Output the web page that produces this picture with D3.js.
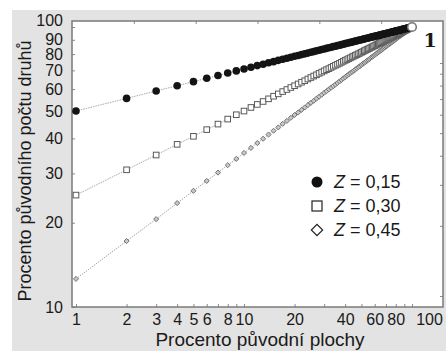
<!DOCTYPE html>
<html>
<head>
<meta charset="utf-8">
<script src="https://cdn.jsdelivr.net/npm/d3@7"></script>
<style>
  body { margin: 0; background: #fff; }
  text { font-family: "Liberation Sans", Arial, sans-serif; fill: #1a1a1a; }
</style>
</head>
<body>
<div id="graf"></div>
<script>
// procento původní plochy (osa x)
const plocha = [1, 2, 3, 4, 5, 6, 7, 8, 9, 10, 11, 12, 13, 14, 15, 16, 17, 18, 19, 20,
  21, 22, 23, 24, 25, 26, 27, 28, 29, 30, 31, 32, 33, 34, 35, 36, 37, 38, 39, 40,
  41, 42, 43, 44, 45, 46, 47, 48, 49, 50, 51, 52, 53, 54, 55, 56, 57, 58, 59, 60,
  61, 62, 63, 64, 65, 66, 67, 68, 69, 70, 71, 72, 73, 74, 75, 76, 77, 78, 79, 80,
  81, 82, 83, 84, 85, 86, 87, 88, 89, 90, 91, 92, 93, 94, 95, 96, 97, 98, 99, 100];

// procento původního počtu druhů pro jednotlivá Z
const druhyZ15 = [50.1, 55.6, 59.1, 61.7, 63.8, 65.6, 67.1, 68.5, 69.7, 70.8,
  71.8, 72.8, 73.6, 74.5, 75.2, 76.0, 76.7, 77.3, 78.0, 78.6,
  79.1, 79.7, 80.2, 80.7, 81.2, 81.7, 82.2, 82.6, 83.1, 83.5,
  83.9, 84.3, 84.7, 85.1, 85.4, 85.8, 86.1, 86.5, 86.8, 87.2,
  87.5, 87.8, 88.1, 88.4, 88.7, 89.0, 89.3, 89.6, 89.9, 90.1,
  90.4, 90.7, 90.9, 91.2, 91.4, 91.7, 91.9, 92.2, 92.4, 92.6,
  92.9, 93.1, 93.3, 93.5, 93.7, 94.0, 94.2, 94.4, 94.6, 94.8,
  95.0, 95.2, 95.4, 95.6, 95.8, 96.0, 96.2, 96.3, 96.5, 96.7,
  96.9, 97.1, 97.2, 97.4, 97.6, 97.8, 97.9, 98.1, 98.3, 98.4,
  98.6, 98.8, 98.9, 99.1, 99.2, 99.4, 99.5, 99.7, 99.8, 100];
const druhyZ30 = [25.1, 30.9, 34.9, 38.1, 40.7, 43.0, 45.0, 46.9, 48.6, 50.1,
  51.6, 52.9, 54.2, 55.4, 56.6, 57.7, 58.8, 59.8, 60.8, 61.7,
  62.6, 63.5, 64.3, 65.2, 66.0, 66.8, 67.5, 68.3, 69.0, 69.7,
  70.4, 71.0, 71.7, 72.4, 73.0, 73.6, 74.2, 74.8, 75.4, 76.0,
  76.5, 77.1, 77.6, 78.2, 78.7, 79.2, 79.7, 80.2, 80.7, 81.2,
  81.7, 82.2, 82.7, 83.1, 83.6, 84.0, 84.5, 84.9, 85.4, 85.8,
  86.2, 86.6, 87.1, 87.5, 87.9, 88.3, 88.7, 89.1, 89.5, 89.9,
  90.2, 90.6, 91.0, 91.4, 91.7, 92.1, 92.5, 92.8, 93.2, 93.5,
  93.9, 94.2, 94.6, 94.9, 95.2, 95.6, 95.9, 96.2, 96.6, 96.9,
  97.2, 97.5, 97.8, 98.2, 98.5, 98.8, 99.1, 99.4, 99.7, 100];
const druhyZ45 = [12.6, 17.2, 20.6, 23.5, 26.0, 28.2, 30.2, 32.1, 33.8, 35.5,
  37.0, 38.5, 39.9, 41.3, 42.6, 43.8, 45.1, 46.2, 47.4, 48.5,
  49.5, 50.6, 51.6, 52.6, 53.6, 54.5, 55.5, 56.4, 57.3, 58.2,
  59.0, 59.9, 60.7, 61.5, 62.3, 63.1, 63.9, 64.7, 65.5, 66.2,
  67.0, 67.7, 68.4, 69.1, 69.8, 70.5, 71.2, 71.9, 72.5, 73.2,
  73.9, 74.5, 75.1, 75.8, 76.4, 77.0, 77.7, 78.3, 78.9, 79.5,
  80.1, 80.6, 81.2, 81.8, 82.4, 82.9, 83.5, 84.1, 84.6, 85.2,
  85.7, 86.3, 86.8, 87.3, 87.9, 88.4, 88.9, 89.4, 89.9, 90.4,
  90.9, 91.5, 92.0, 92.5, 92.9, 93.4, 93.9, 94.4, 94.9, 95.4,
  95.8, 96.3, 96.8, 97.3, 97.7, 98.2, 98.6, 99.1, 99.5, 100];

const legendaZ = ["0,15", "0,30", "0,45"];

const xTicky = [1, 2, 3, 4, 5, 6, 7, 8, 9, 10, 20, 30, 40, 50, 60, 70, 80, 90, 100];
const xPopisky = [1, 2, 3, 4, 5, 6, 8, 10, 20, 40, 60, 80, 100];
const yTicky = [10, 20, 30, 40, 50, 60, 70, 80, 90, 100];
const pravéTicky = [1, 2, 3, 4, 5, 6, 7, 8, 9, 10];
const horníTicky = [1, 2, 3, 4, 5];

const sirka = 446, vyska = 351;
const ramec = { left: 72, right: 443, top: 21, bottom: 307 };

const x = d3.scaleLog().domain([1, 100]).range([76, 412]);
const y = d3.scaleLog().domain([10, 100]).range([307, 27]);
const yPrava = d3.scaleLog().domain([1, 10]).range([296, 63]);
const xHorni = d3.scaleLinear().domain([0, 6]).range([ramec.left, ramec.right]);

const svg = d3.select("#graf").append("svg")
  .attr("width", sirka)
  .attr("height", vyska);

// šedé pozadí a bílá plocha grafu
svg.append("rect")
  .attr("x", 12).attr("y", 10)
  .attr("width", sirka - 12).attr("height", vyska - 10)
  .attr("fill", "#e3e3e3");

svg.append("rect")
  .attr("x", ramec.left).attr("y", ramec.top)
  .attr("width", ramec.right - ramec.left)
  .attr("height", ramec.bottom - ramec.top)
  .attr("fill", "#fff");

// OSA X
const xAs = svg.append("g")
  .attr("transform", `translate(0,${ramec.bottom})`)
  .call(d3.axisBottom(x)
    .tickValues(xTicky)
    .tickSize(-3)
    .tickPadding(7)
    .tickFormat(d => xPopisky.includes(d) ? d : ""));
xAs.select(".domain").remove();
xAs.selectAll("text")
  .attr("font-size", 16)
  .attr("dx", d => d === 100 ? 17 : 0);

// OSA Y
const yAs = svg.append("g")
  .attr("transform", `translate(${ramec.left},0)`)
  .call(d3.axisLeft(y)
    .tickValues(yTicky)
    .tickSize(-3)
    .tickPadding(9));
yAs.select(".domain").remove();
yAs.selectAll("text")
  .attr("font-size", 16)
  .attr("dy", d => d === 100 ? "-0.08em" : "0.32em");

// drobné tiky vpravo a nahoře
const pravaAs = svg.append("g")
  .attr("transform", `translate(${ramec.right},0)`)
  .call(d3.axisRight(yPrava).tickValues(pravéTicky).tickSize(-3).tickFormat(""));
pravaAs.select(".domain").remove();

const horniAs = svg.append("g")
  .attr("transform", `translate(0,${ramec.top})`)
  .call(d3.axisTop(xHorni).tickValues(horníTicky).tickSize(-3).tickFormat(""));
horniAs.select(".domain").remove();

svg.selectAll(".tick line").attr("stroke", "#8a8a8a");

svg.append("rect")
  .attr("x", ramec.left).attr("y", ramec.top)
  .attr("width", ramec.right - ramec.left)
  .attr("height", ramec.bottom - ramec.top)
  .attr("fill", "none")
  .attr("stroke", "#7a7a7a")
  .attr("stroke-width", 1.5);

// řady
const rady = [druhyZ15, druhyZ30, druhyZ45];

const lijn = d3.line()
  .x(d => x(d[0]))
  .y(d => y(d[1]));

const body = druhy => plocha.map((p, i) => [p, druhy[i]]);

rady.forEach(druhy => {
  svg.append("path")
    .datum(body(druhy))
    .attr("d", lijn)
    .attr("fill", "none")
    .attr("stroke", "#a8a8a8")
    .attr("stroke-width", 1)
    .attr("stroke-dasharray", "1.5,1");
});

// kosočtverec = čtverec otočený o 45°
svg.append("g").selectAll("path")
  .data(body(druhyZ45))
  .join("path")
  .attr("transform", d => `translate(${x(d[0])},${y(d[1])}) rotate(45)`)
  .attr("d", d3.symbol(d3.symbolSquare, 13))
  .attr("fill", "#c8c8c8")
  .attr("stroke", "#6e6e6e")
  .attr("stroke-width", 0.9);

svg.append("g").selectAll("rect")
  .data(body(druhyZ30))
  .join("rect")
  .attr("x", d => x(d[0]) - 2.8)
  .attr("y", d => y(d[1]) - 2.8)
  .attr("width", 5.6)
  .attr("height", 5.6)
  .attr("fill", "#fff")
  .attr("stroke", "#5a5a5a")
  .attr("stroke-width", 1);

svg.append("g").selectAll("circle")
  .data(body(druhyZ15))
  .join("circle")
  .attr("cx", d => x(d[0]))
  .attr("cy", d => y(d[1]))
  .attr("r", 3.8)
  .attr("fill", "#141414");

// společný koncový bod
svg.append("circle")
  .attr("cx", x(plocha[plocha.length - 1]))
  .attr("cy", y(druhyZ15[druhyZ15.length - 1]))
  .attr("r", 4.3)
  .attr("fill", "#fff")
  .attr("stroke", "#777")
  .attr("stroke-width", 1.6);

// LEGENDA
const legenda = svg.append("g").attr("transform", "translate(317,182)");
const radky = legenda.selectAll("g")
  .data(legendaZ)
  .join("g")
  .attr("transform", (d, i) => `translate(0,${i * 24})`);

radky.each(function(d, i) {
  const g = d3.select(this);
  if (i === 0) {
    g.append("circle").attr("r", 5.5).attr("fill", "#111");
  } else if (i === 1) {
    g.append("rect").attr("x", -5).attr("y", -5).attr("width", 10).attr("height", 10)
      .attr("fill", "#fff").attr("stroke", "#222").attr("stroke-width", 1.2);
  } else {
    g.append("path")
      .attr("transform", "rotate(45)")
      .attr("d", d3.symbol(d3.symbolSquare, 64))
      .attr("fill", "#fff").attr("stroke", "#222").attr("stroke-width", 1.2);
  }
  const t = g.append("text")
    .attr("x", 17)
    .attr("dy", "0.36em")
    .attr("font-size", 18);
  t.append("tspan").attr("font-style", "italic").text("Z");
  t.append("tspan").text(" = " + d);
});

// popisky os
svg.append("text")
  .attr("x", 260)
  .attr("y", 346)
  .attr("text-anchor", "middle")
  .attr("font-size", 19)
  .text("Procento původní plochy");

svg.append("text")
  .attr("transform", "translate(31,171) rotate(-90)")
  .attr("text-anchor", "middle")
  .attr("font-size", 18)
  .text("Procento původního počtu druhů");

// číslo panelu
svg.append("text")
  .attr("x", 430)
  .attr("y", 47)
  .attr("text-anchor", "middle")
  .attr("font-weight", "bold")
  .attr("font-size", 19)
  .style("font-family", "'DejaVu Serif', serif")
  .text("1");
</script>
</body>
</html>
